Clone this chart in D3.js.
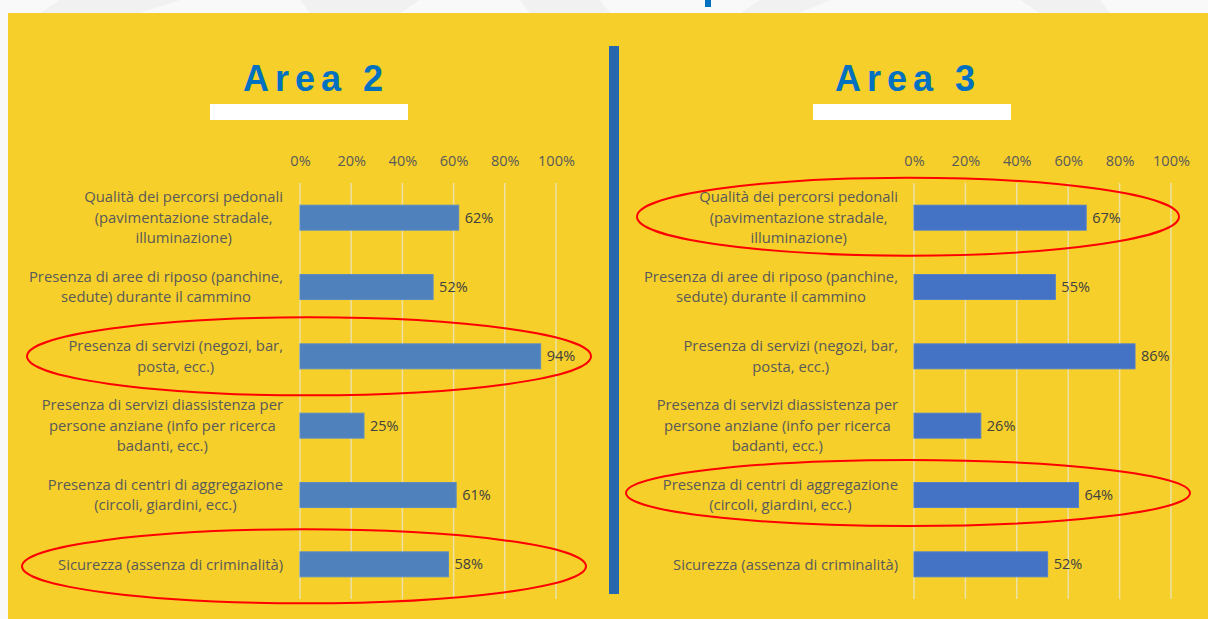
<!DOCTYPE html>
<html>
<head>
<meta charset="utf-8">
<script src="https://cdn.jsdelivr.net/npm/d3@7"></script>
<style>
  html, body { margin: 0; padding: 0; background: #f7f7f7; }
  svg { display: block; }
</style>
</head>
<body>
<svg id="chart" width="1208" height="619"></svg>
<script>
// Category labels, already wrapped the way the slide shows them
var categories = [
  ['Qualità dei percorsi pedonali', '(pavimentazione stradale,', 'illuminazione)'],
  ['Presenza di aree di riposo (panchine,', 'sedute) durante il cammino'],
  ['Presenza di servizi (negozi, bar,', 'posta, ecc.)'],
  ['Presenza di servizi diassistenza per', 'persone anziane (info per ricerca', 'badanti, ecc.)'],
  ['Presenza di centri di aggregazione', '(circoli, giardini, ecc.)'],
  ['Sicurezza (assenza di criminalità)']
];

var area2Values = [62, 52, 94, 25, 61, 58];
var area3Values = [67, 55, 86, 26, 64, 52];

var tickValues = [0, 20, 40, 60, 80, 100];
var tickLabels = ['0%', '20%', '40%', '60%', '80%', '100%'];

var panelTitles = ['Area 2', 'Area 3'];

// rows circled in red on each panel
var area2Highlight = [2, 5];
var area3Highlight = [0, 4];

var YELLOW = '#F6CF2A';
var GRID = '#EDE1A6';
var TEXT = '#595959';
var FONT = '"Open Sans", Lato, sans-serif';

var svg = d3.select('#chart');

// light background behind the yellow card
svg.append('rect').attr('width', 1208).attr('height', 619).attr('fill', '#f9f9f9');
var shapes = [
  [[60, 0], [180, 0], [140, 13], [40, 13]],
  [[300, 0], [420, 0], [400, 13], [310, 13]],
  [[520, 0], [600, 0], [610, 13], [530, 13]],
  [[760, 0], [830, 0], [800, 13], [740, 13]],
  [[1020, 0], [1100, 0], [1110, 13], [1040, 13]],
  [[1260, 0], [1330, 0], [1340, 13], [1280, 13]]
];
svg.selectAll('polygon.bg')
  .data(shapes)
  .enter()
  .append('polygon')
  .attr('class', 'bg')
  .attr('points', function(d) { return d.map(function(p) { return p.join(','); }).join(' '); })
  .attr('fill', '#f1f1f1');

// descender of the cut-off heading above the card
svg.append('rect').attr('x', 705).attr('y', 0).attr('width', 6).attr('height', 7).attr('fill', '#0070C0');

svg.append('rect')
  .attr('x', 8).attr('y', 13)
  .attr('width', 1200).attr('height', 606)
  .attr('fill', YELLOW);

// vertical divider
svg.append('rect')
  .attr('x', 609).attr('y', 46)
  .attr('width', 10).attr('height', 548)
  .attr('fill', '#2767AE');

var panels = [
  {
    title: panelTitles[0], values: area2Values, highlight: area2Highlight,
    x0: 300, x1: 556, labelRight: 283, barColor: '#4F81BD', barStroke: '#5D8CC3',
    titleX: 316, whiteBar: [210, 408],
    ellipses: [{ dx: 9, rx: 282, ry: 39, dy: 0 }, { dx: 4, rx: 282, ry: 37, dy: 2 }]
  },
  {
    title: panelTitles[1], values: area3Values, highlight: area3Highlight,
    x0: 914, x1: 1171, labelRight: 898, barColor: '#4472C4', barStroke: '#5580CB',
    titleX: 908, whiteBar: [813, 1011],
    ellipses: [{ dx: -6, rx: 271, ry: 39, dy: -1 }, { dx: -6, rx: 282, ry: 33, dy: -2 }]
  }
];

var y = d3.scaleBand()
  .domain(d3.range(categories.length))
  .range([183, 599])
  .paddingInner(0.64)
  .paddingOuter(0.32);

panels.forEach(function(p) {
  var g = svg.append('g');

  var x = d3.scaleLinear().domain([0, 100]).range([p.x0, p.x1]);

  // title + white underline bar
  g.append('text')
    .attr('x', p.titleX)
    .attr('y', 91)
    .attr('text-anchor', 'middle')
    .style('font-family', '"Liberation Sans", Arial, sans-serif')
    .style('font-weight', 'bold')
    .style('font-size', '36px')
    .style('letter-spacing', '6px')
    .attr('fill', '#0070C0')
    .text(p.title);

  g.append('rect')
    .attr('x', p.whiteBar[0]).attr('y', 104)
    .attr('width', p.whiteBar[1] - p.whiteBar[0]).attr('height', 16)
    .attr('fill', '#ffffff');

  // gridlines
  g.selectAll('line.grid')
    .data(tickValues)
    .enter()
    .append('line')
    .attr('class', 'grid')
    .attr('x1', function(d) { return x(d); })
    .attr('x2', function(d) { return x(d); })
    .attr('y1', 183)
    .attr('y2', 599)
    .attr('stroke', GRID)
    .attr('stroke-width', 1.5);

  // top axis labels
  var axis = d3.axisTop(x)
    .tickValues(tickValues)
    .tickFormat(function(d, i) { return tickLabels[i]; })
    .tickSize(0)
    .tickPadding(0);

  var ax = g.append('g')
    .attr('transform', 'translate(0,166)')
    .call(axis);
  ax.select('.domain').remove();
  ax.selectAll('text')
    .style('font-family', FONT)
    .style('font-size', '14.5px')
    .attr('fill', TEXT);

  // bars
  g.selectAll('rect.bar')
    .data(p.values)
    .enter()
    .append('rect')
    .attr('class', 'bar')
    .attr('x', x(0))
    .attr('y', function(d, i) { return y(i); })
    .attr('width', function(d) { return x(d) - x(0); })
    .attr('height', y.bandwidth())
    .attr('fill', p.barColor)
    .attr('stroke', p.barStroke)
    .attr('stroke-width', 1);

  // value labels
  g.selectAll('text.val')
    .data(p.values)
    .enter()
    .append('text')
    .attr('class', 'val')
    .attr('x', function(d) { return x(d) + 6; })
    .attr('y', function(d, i) { return y(i) + y.bandwidth() / 2; })
    .attr('dy', '0.35em')
    .style('font-family', FONT)
    .style('font-size', '14.5px')
    .attr('fill', '#404040')
    .text(function(d) { return d + '%'; });

  // category labels: each block centred, blocks right-aligned
  categories.forEach(function(lines, i) {
    var cy = y(i) + y.bandwidth() / 2;
    var t = g.append('text')
      .attr('text-anchor', 'middle')
      .style('font-family', FONT)
      .style('font-size', '14.8px')
      .attr('fill', TEXT);
    var lineH = 20.5;
    var spans = t.selectAll('tspan')
      .data(lines)
      .enter()
      .append('tspan')
      .attr('y', function(d, k) { return cy + (k - (lines.length - 1) / 2) * lineH; })
      .attr('dy', '0.35em')
      .text(function(d) { return d; });
    var maxW = 0;
    spans.each(function() { maxW = Math.max(maxW, this.getComputedTextLength()); });
    spans.attr('x', p.labelRight - maxW / 2);
  });

  // red ellipses around the highlighted rows
  p.highlight.forEach(function(idx, k) {
    var e = p.ellipses[k];
    g.append('ellipse')
      .attr('cx', x(0) + e.dx)
      .attr('cy', y(idx) + y.bandwidth() / 2 + e.dy)
      .attr('rx', e.rx)
      .attr('ry', e.ry)
      .attr('fill', 'none')
      .attr('stroke', '#FF0000')
      .attr('stroke-width', 2);
  });
});
</script>
</body>
</html>
